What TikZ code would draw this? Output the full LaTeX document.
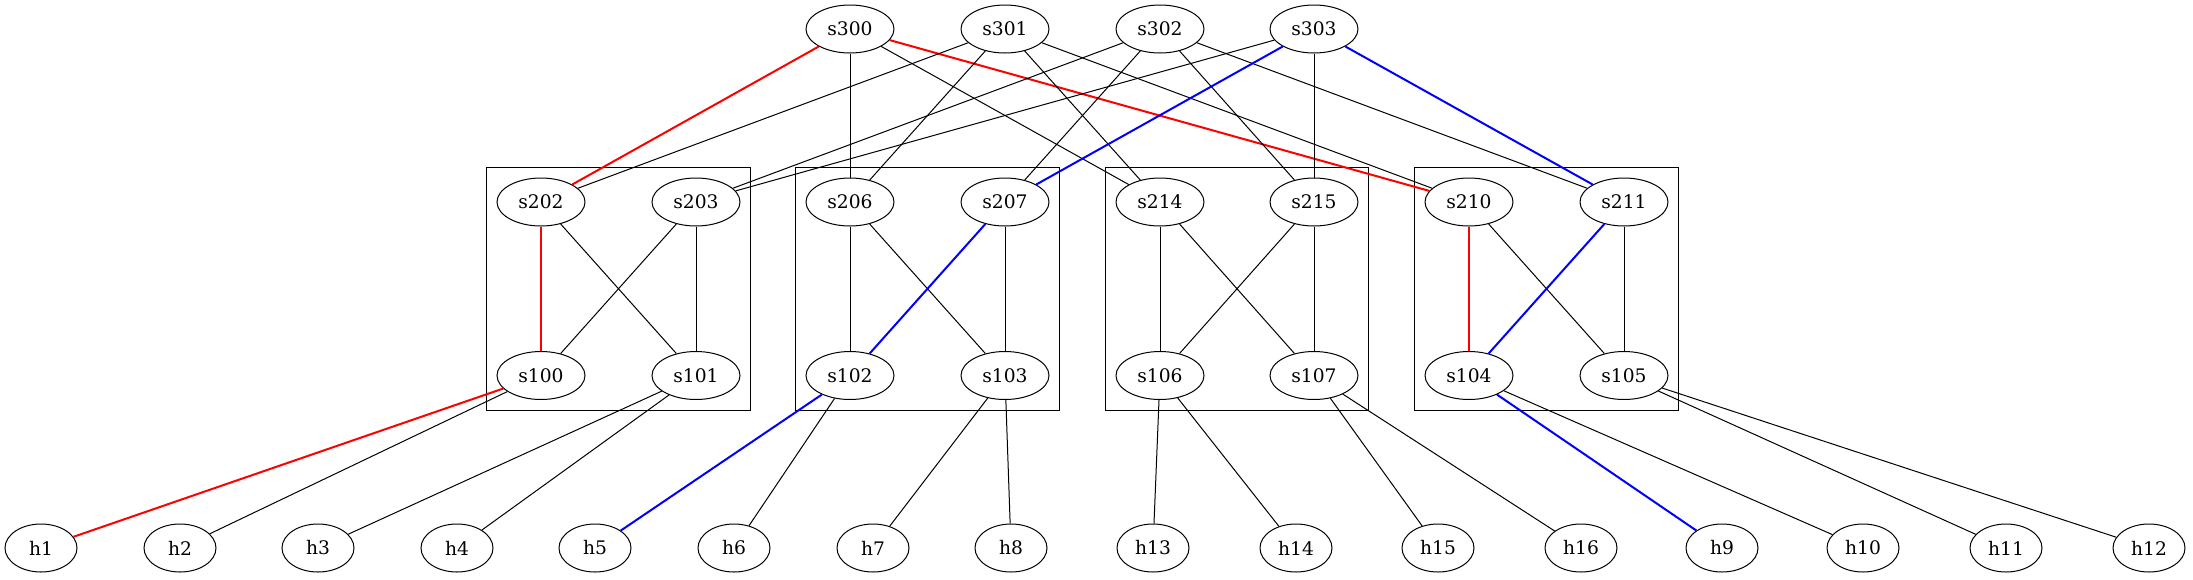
\documentclass[tikz,border=0pt]{standalone}
\usepackage{fontspec}
\setmainfont{DejaVu Serif}
\usetikzlibrary{shapes.geometric,fit}

\begin{document}
\begin{tikzpicture}[
    x=0.75pt, y=-0.75pt,
    switch/.style={ellipse, draw, line width=0.75pt, minimum width=66pt, minimum height=36pt, inner sep=0pt, font=\fontsize{14}{16}\selectfont},
    host/.style={switch, minimum width=54pt},
    pod/.style={draw, line width=0.75pt, inner sep=7.5pt},
    link/.style={line width=0.75pt},
    redlink/.style={draw=red, line width=1.5pt},
    bluelink/.style={draw=blue, line width=1.5pt}
]
    \useasboundingbox (0,0) rectangle (2193,579);

    % core
    \node[switch] (s300) at (850,29) {s300};
    \node[switch] (s301) at (1005,29) {s301};
    \node[switch] (s302) at (1160,29) {s302};
    \node[switch] (s303) at (1314,29) {s303};

    % aggregation
    \node[switch] (s202) at (541,202) {s202};
    \node[switch] (s203) at (696,202) {s203};
    \node[switch] (s206) at (850,202) {s206};
    \node[switch] (s207) at (1005,202) {s207};
    \node[switch] (s214) at (1160,202) {s214};
    \node[switch] (s215) at (1314,202) {s215};
    \node[switch] (s210) at (1469,202) {s210};
    \node[switch] (s211) at (1624,202) {s211};

    % edge
    \node[switch] (s100) at (541,375.5) {s100};
    \node[switch] (s101) at (696,375.5) {s101};
    \node[switch] (s102) at (850,375.5) {s102};
    \node[switch] (s103) at (1005,375.5) {s103};
    \node[switch] (s106) at (1160,375.5) {s106};
    \node[switch] (s107) at (1314,375.5) {s107};
    \node[switch] (s104) at (1469,375.5) {s104};
    \node[switch] (s105) at (1624,375.5) {s105};

    % hosts
    \node[host] (h1) at (41,548) {h1};
    \node[host] (h2) at (180,548) {h2};
    \node[host] (h3) at (318,548) {h3};
    \node[host] (h4) at (457,548) {h4};
    \node[host] (h5) at (595,548) {h5};
    \node[host] (h6) at (734,548) {h6};
    \node[host] (h7) at (873,548) {h7};
    \node[host] (h8) at (1011,548) {h8};
    \node[host] (h13) at (1153,548) {h13};
    \node[host] (h14) at (1296,548) {h14};
    \node[host] (h15) at (1438,548) {h15};
    \node[host] (h16) at (1581,548) {h16};
    \node[host] (h9) at (1722,548) {h9};
    \node[host] (h10) at (1863,548) {h10};
    \node[host] (h11) at (2006,548) {h11};
    \node[host] (h12) at (2149,548) {h12};

    % pods
    \node[pod, fit=(s202)(s101)] (pod1) {};
    \node[pod, fit=(s206)(s103)] (pod2) {};
    \node[pod, fit=(s214)(s107)] (pod3) {};
    \node[pod, fit=(s210)(s105)] (pod4) {};

    % core links
    \draw[redlink] (s300) -- (s202);
    \draw[link] (s300) -- (s206);
    \draw[link] (s300) -- (s214);
    \draw[redlink] (s300) -- (s210);
    \draw[link] (s301) -- (s202);
    \draw[link] (s301) -- (s206);
    \draw[link] (s301) -- (s214);
    \draw[link] (s301) -- (s210);
    \draw[link] (s302) -- (s203);
    \draw[link] (s302) -- (s207);
    \draw[link] (s302) -- (s215);
    \draw[link] (s302) -- (s211);
    \draw[link] (s303) -- (s203);
    \draw[bluelink] (s303) -- (s207);
    \draw[link] (s303) -- (s215);
    \draw[bluelink] (s303) -- (s211);

    % pod links
    \draw[redlink] (s202) -- (s100);
    \draw[link] (s202) -- (s101);
    \draw[link] (s203) -- (s100);
    \draw[link] (s203) -- (s101);
    \draw[link] (s206) -- (s102);
    \draw[link] (s206) -- (s103);
    \draw[bluelink] (s207) -- (s102);
    \draw[link] (s207) -- (s103);
    \draw[link] (s214) -- (s106);
    \draw[link] (s214) -- (s107);
    \draw[link] (s215) -- (s106);
    \draw[link] (s215) -- (s107);
    \draw[redlink] (s210) -- (s104);
    \draw[link] (s210) -- (s105);
    \draw[bluelink] (s211) -- (s104);
    \draw[link] (s211) -- (s105);

    % host links
    \draw[redlink] (s100) -- (h1);
    \draw[link] (s100) -- (h2);
    \draw[link] (s101) -- (h3);
    \draw[link] (s101) -- (h4);
    \draw[bluelink] (s102) -- (h5);
    \draw[link] (s102) -- (h6);
    \draw[link] (s103) -- (h7);
    \draw[link] (s103) -- (h8);
    \draw[link] (s106) -- (h13);
    \draw[link] (s106) -- (h14);
    \draw[link] (s107) -- (h15);
    \draw[link] (s107) -- (h16);
    \draw[bluelink] (s104) -- (h9);
    \draw[link] (s104) -- (h10);
    \draw[link] (s105) -- (h11);
    \draw[link] (s105) -- (h12);
\end{tikzpicture}
\end{document}
